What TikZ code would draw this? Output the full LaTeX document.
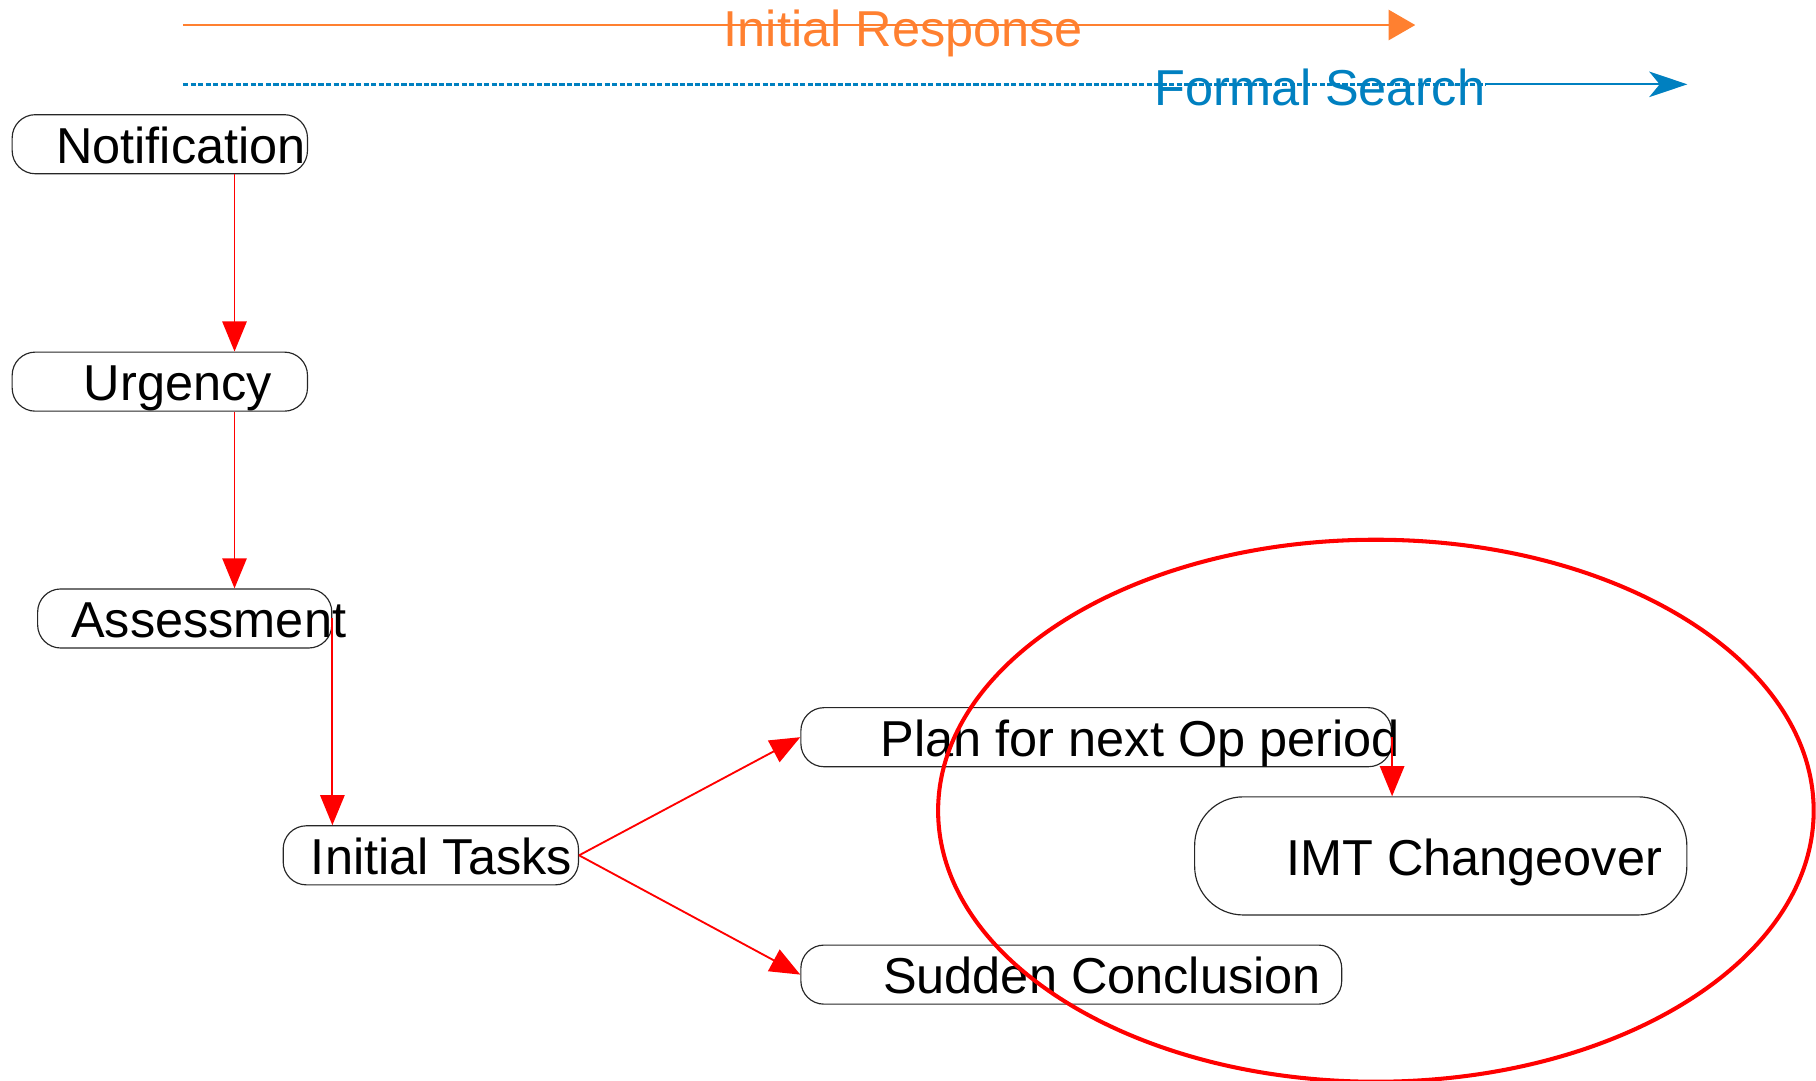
\documentclass[tikz,border=0pt]{standalone}
\usepackage{fontspec}
\setmainfont{Liberation Sans}
\usetikzlibrary{arrows.meta}

\definecolor{irorange}{RGB}{255,128,48}
\definecolor{fsblue}{RGB}{0,128,192}

\newcommand{\steptext}[2]{\makebox[#1][l]{#2}}

\tikzset{
	stepbox/.style={draw=black!85, line width=0.1mm, rounded corners=2mm, anchor=west,
		minimum height=5.1mm, inner ysep=0pt, text height=1em, text depth=0.06em},
	flow/.style={draw=red, line width=0.16mm, -{Triangle[length=2.6mm, width=2.1mm]}},
	phase/.style={anchor=base, inner sep=0pt}
}

\begin{document}
\begin{tikzpicture}[x=0.1mm, y=-0.1mm, font=\fontsize{12.4}{14}\selectfont]
	\useasboundingbox (0, 0) rectangle (1568, 933);

	\coordinate (ir start) at (158, 21.6);
	\coordinate (ir end) at (1222, 21.6);
	\node[phase, text=irorange] at (780, 40.3) (ir) {Initial Response};
	\draw[irorange, line width=0.2mm, -{Triangle[length=2.3mm, width=2.6mm]}] (ir start) -- (ir end);

	\coordinate (fs start) at (158, 72.8);
	\coordinate (fs end) at (1457, 72.8);
	\node[phase, text=fsblue] at (1139.5, 90.7) (fs) {Formal Search};
	\coordinate (fs solid) at (fs.east |- fs start);
	\draw[fsblue, line width=0.22mm, dash pattern=on 0.45mm off 0.2mm] (fs start) -- (fs solid);
	\draw[fsblue, line width=0.2mm, -{Stealth[length=3.3mm, width=2.2mm, inset=0.9mm]}] (fs solid) -- (fs end);

	\node[stepbox, inner xsep=3.8mm] at (10, 124.5) (notif) {\steptext{17.9mm}{Notification}};
	\node[stepbox, inner xsep=6.2mm] at (10, 329.5) (urg) {\steptext{13.1mm}{Urgency}};
	\node[stepbox, inner xsep=2.9mm] at (32, 534) (assess) {\steptext{19.6mm}{Assessment}};
	\node[stepbox, inner xsep=2.4mm] at (244, 738.5) (tasks) {\steptext{20.7mm}{Initial Tasks}};
	\node[stepbox, inner xsep=6.9mm] at (691, 636.5) (plan) {\steptext{37.2mm}{Plan for next Op period}};
	\node[stepbox, inner xsep=7.9mm, minimum height=10.2mm, rounded corners=4.2mm] at (1031, 739) (imt) {\steptext{26.7mm}{IMT Changeover}};
	\node[stepbox, inner xsep=7.1mm] at (691, 841.5) (sudden) {\steptext{32.5mm}{Sudden Conclusion}};

	\draw[flow] ([xshift=6.45mm]notif.south) -- ([xshift=6.45mm]notif.south |- urg.north);
	\draw[flow] ([xshift=6.45mm]urg.south) -- ([xshift=6.45mm]urg.south |- assess.north);
	\draw[flow] (assess.east) -- (assess.east |- tasks.north);
	\draw[flow] (tasks.east) -- (plan.west);
	\draw[flow] (tasks.east) -- (sudden.west);
	\draw[flow] (plan.east) -- (plan.east |- imt.north);

	\draw[red, line width=0.35mm] (1188, 700) ellipse [x radius=37.8mm, y radius=23.4mm];
\end{tikzpicture}
\end{document}
